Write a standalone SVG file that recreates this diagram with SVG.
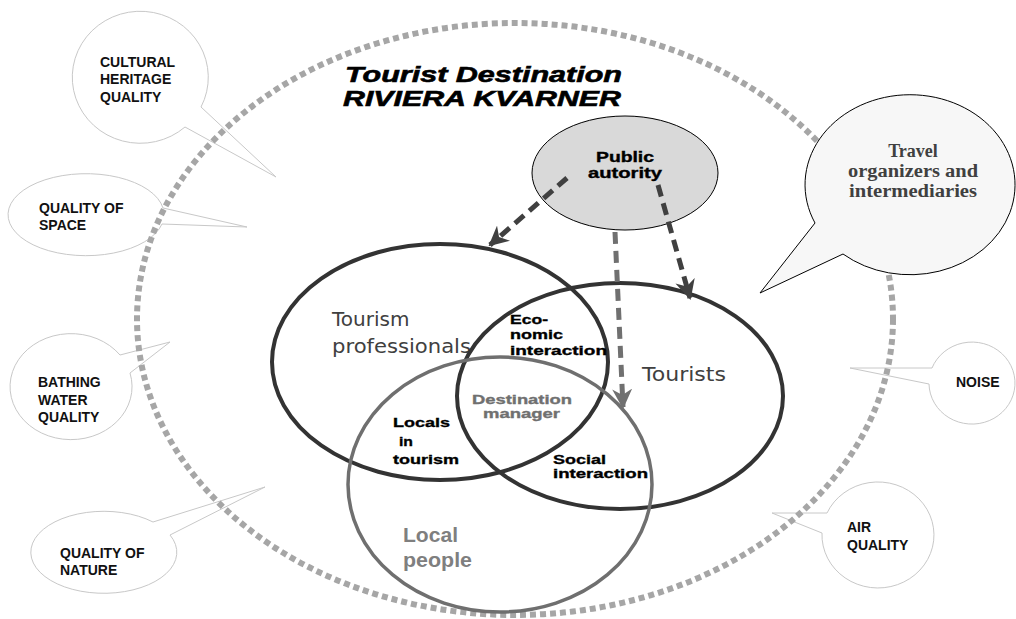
<svg xmlns="http://www.w3.org/2000/svg" width="1016" height="619" viewBox="0 0 1016 619">
<style>
.bub{fill:#ffffff;stroke:#c8c8c8;stroke-width:1}
.lbl{font-family:"Liberation Sans",Arial,sans-serif;font-weight:bold;font-size:14px;fill:#111}
.heavy{font-family:"Liberation Sans",Arial,sans-serif;font-weight:bold;font-size:13px;fill:#000;stroke:#000;stroke-width:0.35}
.big{font-family:"DejaVu Sans",Verdana,sans-serif;font-size:20px;fill:#404040}
.venn{fill:none;stroke:#333;stroke-width:4}
.dk{fill:none;stroke:#404040;stroke-width:5;stroke-dasharray:12 7}
</style>
<defs>
<marker id="ahD" viewBox="0 0 10 10" refX="9" refY="5" markerWidth="4" markerHeight="4" orient="auto" markerUnits="strokeWidth">
<path d="M0,0 L10,5 L0,10 L3,5 z" fill="#404040"/>
</marker>
<marker id="ahG" viewBox="0 0 10 10" refX="9" refY="5" markerWidth="4" markerHeight="4" orient="auto" markerUnits="strokeWidth">
<path d="M0,0 L10,5 L0,10 L3,5 z" fill="#707070"/>
</marker>
</defs>
<rect width="1016" height="619" fill="#ffffff"/>

<g id="cultural">
<path class="bub" d="M201,107 L276,177 L185,127 A68,66 0 1 1 201,107 Z"/>
<text class="lbl"><tspan x="100" y="67">CULTURAL</tspan><tspan x="100" y="84">HERITAGE</tspan><tspan x="100" y="102">QUALITY</tspan></text>
</g>
<g id="space">
<path class="bub" d="M163,208 L247,227 L162,224 A78,41 0 1 1 163,208 Z"/>
<text class="lbl"><tspan x="39" y="213">QUALITY OF</tspan><tspan x="39" y="230">SPACE</tspan></text>
</g>
<g id="bathing">
<path class="bub" d="M120,355 L170,342 L130,373 A61,53 0 1 1 120,355 Z"/>
<text class="lbl"><tspan x="38" y="387">BATHING</tspan><tspan x="38" y="405">WATER</tspan><tspan x="38" y="422">QUALITY</tspan></text>
</g>
<g id="nature">
<path class="bub" d="M153,522 L265,487 L170,535 A73,41 0 1 1 153,522 Z"/>
<text class="lbl"><tspan x="60" y="558">QUALITY OF</tspan><tspan x="60" y="575">NATURE</tspan></text>
</g>
<g id="noise">
<path class="bub" d="M932,368 L850,368 L929,384 A43,41 0 1 0 932,368 Z"/>
<text class="lbl" x="956" y="387">NOISE</text>
</g>
<g id="air">
<path class="bub" d="M827,513 L772,513 L822,533 A56,53 0 1 0 827,513 Z"/>
<text class="lbl"><tspan x="847" y="532">AIR</tspan><tspan x="847" y="550">QUALITY</tspan></text>
</g>

<g id="destination">
<ellipse cx="515" cy="319" rx="378" ry="296" fill="none" stroke="#a6a6a6" stroke-width="6" stroke-dasharray="6 4"/>
<text font-family="'Liberation Sans',Arial,sans-serif" font-weight="bold" font-style="italic" font-size="22" fill="#000" stroke="#000" stroke-width="0.6"><tspan x="345" y="82" textLength="277" lengthAdjust="spacingAndGlyphs">Tourist Destination</tspan><tspan x="343" y="106" textLength="278" lengthAdjust="spacingAndGlyphs">RIVIERA KVARNER</tspan></text>
</g>

<g id="travel">
<path d="M815,223 L760,293 L843,254 A105,90 0 1 0 815,223 Z" fill="#f7f7f7" stroke="#000" stroke-width="1"/>
<text font-family="'Liberation Serif','Times New Roman',serif" font-weight="bold" font-size="18" fill="#404040" text-anchor="middle"><tspan x="913" y="157">Travel</tspan><tspan x="913" y="177" textLength="130" lengthAdjust="spacingAndGlyphs">organizers and</tspan><tspan x="913" y="197" textLength="128" lengthAdjust="spacingAndGlyphs">intermediaries</tspan></text>
</g>

<g id="tourism-professionals">
<ellipse class="venn" cx="440" cy="362" rx="168" ry="118"/>
<text class="big"><tspan x="332" y="326">Tourism</tspan><tspan x="332" y="353" textLength="139" lengthAdjust="spacingAndGlyphs">professionals</tspan></text>
</g>
<g id="tourists">
<ellipse class="venn" cx="620" cy="396" rx="163" ry="113"/>
<text class="big" x="642" y="381" textLength="84" lengthAdjust="spacingAndGlyphs">Tourists</text>
</g>
<g id="local-people">
<ellipse cx="500" cy="484.5" rx="152" ry="127.5" fill="none" stroke="#6f6f6f" stroke-width="3.5"/>
<text font-family="'Liberation Sans',Arial,sans-serif" font-weight="bold" font-size="20" fill="#7f7f7f"><tspan x="403" y="542" textLength="55" lengthAdjust="spacingAndGlyphs">Local</tspan><tspan x="403" y="567" textLength="69" lengthAdjust="spacingAndGlyphs">people</tspan></text>
</g>

<g id="economic">
<text class="heavy"><tspan x="510" y="324" textLength="38" lengthAdjust="spacingAndGlyphs">Eco-</tspan><tspan x="510" y="339" textLength="53" lengthAdjust="spacingAndGlyphs">nomic</tspan><tspan x="510" y="355" textLength="97" lengthAdjust="spacingAndGlyphs">interaction</tspan></text>
</g>
<g id="destination-manager">
<text class="heavy" style="fill:#707070;stroke:#707070"><tspan x="472" y="404" textLength="100" lengthAdjust="spacingAndGlyphs">Destination</tspan><tspan x="483" y="418" textLength="77" lengthAdjust="spacingAndGlyphs">manager</tspan></text>
</g>
<g id="locals-in-tourism">
<text class="heavy"><tspan x="393" y="427" textLength="57" lengthAdjust="spacingAndGlyphs">Locals</tspan><tspan x="399" y="446" textLength="14" lengthAdjust="spacingAndGlyphs">in</tspan><tspan x="393" y="464" textLength="66" lengthAdjust="spacingAndGlyphs">tourism</tspan></text>
</g>
<g id="social">
<text class="heavy"><tspan x="553" y="464" textLength="53" lengthAdjust="spacingAndGlyphs">Social</tspan><tspan x="553" y="478" textLength="95" lengthAdjust="spacingAndGlyphs">interaction</tspan></text>
</g>

<g id="public-autority">
<ellipse cx="625" cy="173" rx="93" ry="57" fill="#d9d9d9" stroke="#000" stroke-width="1"/>
<text class="heavy" text-anchor="middle" font-size="14" style="font-size:14px"><tspan x="625" y="162" textLength="58" lengthAdjust="spacingAndGlyphs">Public</tspan><tspan x="625" y="178" textLength="74" lengthAdjust="spacingAndGlyphs">autority</tspan></text>
</g>

<g id="connectors">
<line class="dk" x1="567" y1="178" x2="490" y2="245" marker-end="url(#ahD)"/>
<line class="dk" x1="658" y1="185" x2="690" y2="298" marker-end="url(#ahD)"/>
<line x1="615" y1="232" x2="623" y2="407" fill="none" stroke="#707070" stroke-width="5" stroke-dasharray="12 7" marker-end="url(#ahG)"/>
</g>
</svg>
